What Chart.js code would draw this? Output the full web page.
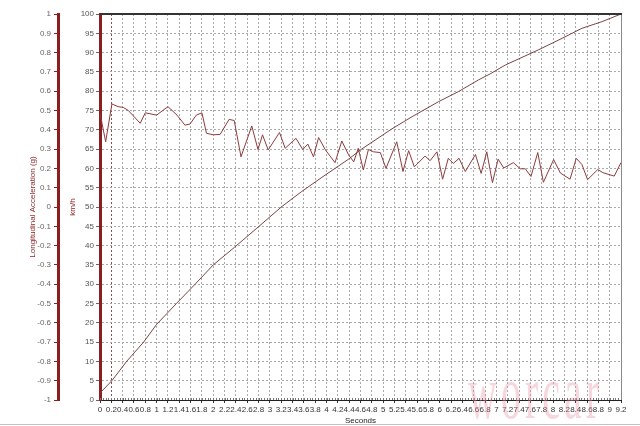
<!DOCTYPE html>
<html>
<head>
<meta charset="utf-8">
<script src="https://cdn.jsdelivr.net/npm/chart.js@4.4.1/dist/chart.umd.min.js"></script>
<style>
  html, body { margin: 0; padding: 0; background: #fff; }
  #wrap { position: relative; width: 640px; height: 426px; overflow: hidden; }
  #mark { position: absolute; left: 468px; top: 385px; font-family: "Liberation Serif", "DejaVu Serif", serif;
          font-size: 40px; line-height: 1; color: rgba(232, 150, 165, 0.38); letter-spacing: 4px;
          transform-origin: 0 33px; transform: scaleY(1.9); pointer-events: none; white-space: nowrap; }
</style>
</head>
<body>
<div id="wrap">
  <canvas id="c" width="640" height="426"></canvas>
  <div id="mark">worcar</div>
</div>
<script>
// Longitudinal acceleration (g) vs time (s)
const accelTime = [0.00,0.10,0.21,0.32,0.41,0.50,0.71,0.80,1.00,1.20,1.36,1.50,1.59,1.70,1.80,1.88,2.00,2.12,2.28,2.37,
  2.49,2.68,2.79,2.87,2.97,3.17,3.27,3.46,3.58,3.67,3.77,3.86,3.98,4.15,4.27,4.39,4.48,4.56,4.65,4.74,
  4.83,4.95,5.05,5.24,5.35,5.45,5.55,5.74,5.83,5.95,6.05,6.15,6.24,6.34,6.45,6.63,6.73,6.83,6.93,7.03,
  7.13,7.30,7.42,7.51,7.61,7.73,7.83,8.01,8.13,8.30,8.41,8.51,8.61,8.79,8.88,9.08,9.20];
const accelG = [0.486,0.338,0.534,0.520,0.516,0.500,0.434,0.488,0.476,0.520,0.476,0.424,0.430,0.476,0.488,0.382,0.374,0.376,0.454,0.448,
  0.260,0.420,0.298,0.374,0.296,0.386,0.304,0.356,0.298,0.326,0.260,0.360,0.296,0.230,0.342,0.270,0.234,0.304,0.192,0.298,
  0.286,0.282,0.200,0.338,0.184,0.292,0.208,0.264,0.240,0.286,0.144,0.252,0.226,0.252,0.184,0.272,0.174,0.286,0.126,0.248,
  0.202,0.230,0.198,0.198,0.158,0.282,0.128,0.246,0.176,0.144,0.252,0.220,0.142,0.194,0.178,0.160,0.230];

// Speed (km/h) vs time (s)
const speedTime = [0.00,0.21,0.47,0.77,1.00,1.35,1.68,2.00,2.37,2.80,3.21,3.56,3.92,4.15,4.39,4.60,5.15,5.51,5.98,6.33,6.68,6.89,7.16,7.74,8.16,8.51,8.86,9.20];
const speedKmh  = [1.8,5.0,10.0,15.0,19.6,25.0,30.0,35.0,39.5,44.9,50.1,54.0,57.7,60.0,62.4,64.8,70.2,73.4,77.3,79.9,82.9,84.5,86.8,90.7,93.7,96.3,98.0,100.0];

const xMin = 0, xMax = 9.2, xStep = 0.2;
const gMin = -1, gMax = 1, gStep = 0.1;
const vMin = 0, vMax = 100, vStep = 5;

const MAROON = '#8b1f1f';
const fmt = v => String(Number(Number(v).toFixed(1)));

const framePlugin = {
  id: 'frame',
  afterDraw(chart) {
    const {ctx, chartArea: a, scales} = chart;
    const xs = scales.x;
    ctx.save();
    // minor ticks on the time axis
    ctx.strokeStyle = '#777';
    ctx.lineWidth = 1;
    ctx.beginPath();
    for (let i = 0; i <= 184; i++) {
      const px = Math.round(xs.getPixelForValue(i * 0.05)) + 0.5;
      ctx.moveTo(px, a.bottom);
      ctx.lineTo(px, a.bottom - 2);
    }
    ctx.stroke();
    // right border
    ctx.strokeStyle = '#8a8a8a';
    ctx.beginPath();
    ctx.moveTo(a.right + 0.5, a.top);
    ctx.lineTo(a.right + 0.5, a.bottom);
    ctx.stroke();
    // top border
    ctx.strokeStyle = '#333';
    ctx.lineWidth = 2;
    ctx.beginPath();
    ctx.moveTo(a.left, a.top);
    ctx.lineTo(a.right + 1, a.top);
    ctx.stroke();
    // bottom line of picture
    ctx.strokeStyle = '#c4c4c4';
    ctx.lineWidth = 1;
    ctx.beginPath();
    ctx.moveTo(0, 424.5);
    ctx.lineTo(640, 424.5);
    ctx.stroke();
    ctx.restore();
  }
};

Chart.defaults.font.family = '"Liberation Sans", Arial, sans-serif';

new Chart(document.getElementById('c'), {
  type: 'line',
  data: {
    datasets: [
      {
        label: 'Longitudinal Acceleration (g)',
        data: accelTime.map((t, i) => ({x: t, y: accelG[i]})),
        yAxisID: 'yA',
        borderColor: '#8e3b3b',
        borderWidth: 1,
        pointRadius: 0,
        tension: 0
      },
      {
        label: 'km/h',
        data: speedTime.map((t, i) => ({x: t, y: speedKmh[i]})),
        yAxisID: 'y',
        borderColor: '#7b4444',
        borderWidth: 1,
        pointRadius: 0,
        tension: 0
      }
    ]
  },
  options: {
    responsive: false,
    animation: false,
    events: [],
    layout: { padding: { top: 14, right: 19, left: 0, bottom: 0 } },
    plugins: { legend: { display: false }, tooltip: { enabled: false } },
    scales: {
      x: {
        type: 'linear', position: 'bottom', min: xMin, max: xMax,
        ticks: { stepSize: xStep, autoSkip: false, maxRotation: 0, minRotation: 0,
                 font: { size: 8 }, color: '#333', padding: 2, callback: v => fmt(v) },
        grid: { color: c => (c.tick && Math.abs(c.tick.value - 0.2) < 1e-6) ? '#8a5050' : '#a9a9a9',
                lineWidth: 1, tickLength: 3, tickColor: '#333' },
        border: { display: true, color: '#222', width: 1, dash: [2, 2] },
        title: { display: true, text: 'Seconds', font: { size: 8 }, color: '#222', padding: { top: 0, bottom: 0 } },
        afterFit: s => { s.height = 26; }
      },
      y: {
        type: 'linear', position: 'left', weight: 0, min: vMin, max: vMax,
        ticks: { stepSize: vStep, font: { size: 8 }, color: '#555', padding: 2 },
        grid: { color: '#a9a9a9', lineWidth: 1, tickLength: 4, tickColor: '#666' },
        border: { display: true, color: MAROON, width: 3, dash: [2, 2] },
        title: { display: true, text: 'km/h', font: { size: 8 }, color: MAROON, padding: { top: 10, bottom: 0 } },
        afterFit: s => { s.width = 42; }
      },
      yA: {
        type: 'linear', position: 'left', weight: 1, min: gMin, max: gMax,
        ticks: { stepSize: gStep, font: { size: 8 }, color: '#666', padding: 3, callback: v => fmt(v) },
        grid: { drawOnChartArea: false, tickLength: 4, tickColor: MAROON },
        border: { display: true, color: MAROON, width: 3 },
        title: { display: true, text: 'Longitudinal Acceleration (g)', font: { size: 8 }, color: MAROON, padding: { top: 28, bottom: 0 } },
        afterFit: s => { s.width = 58; }
      }
    }
  },
  plugins: [framePlugin]
});
</script>
</body>
</html>
